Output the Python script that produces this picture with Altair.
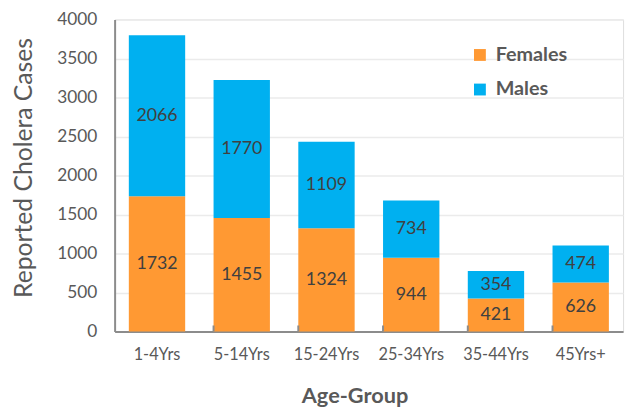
import altair as alt
import pandas as pd

categories = ["1-4Yrs", "5-14Yrs", "15-24Yrs", "25-34Yrs", "35-44Yrs", "45Yrs+"]
females = [1732, 1455, 1324, 944, 421, 626]
males = [2066, 1770, 1109, 734, 354, 474]
series = ["Females", "Males"]
colors = ["#FF9933", "#00B0F0"]
y_ticks = [0, 500, 1000, 1500, 2000, 2500, 3000, 3500, 4000]

rows = []
for i, c in enumerate(categories):
    rows.append({"cat": c, "sex": "Females", "value": females[i], "ord": 0})
    rows.append({"cat": c, "sex": "Males", "value": males[i], "ord": 1})
df = pd.DataFrame(rows)

FONT = "Lato"
GRAY = "#595959"

xaxis = alt.Axis(title="Age-Group", labelAngle=0, ticks=False, labelPadding=15,
                 labelFontSize=16.5, labelColor=GRAY, labelFont=FONT,
                 titleFont=FONT, titleFontSize=22, titleFontWeight="bold", titleColor=GRAY,
                 titleX=243, titleY=65, titleBaseline="middle", titleAnchor="middle",
                 domainColor="#8C8C8C", domainWidth=2)
xscale = alt.Scale(paddingInner=0.335, paddingOuter=0.1675)

yaxis = alt.Axis(values=y_ticks, format="d", labelOverlap=False,
                 title="Reported Cholera Cases", ticks=False,
                 labelPadding=18, labelFontSize=17.5, labelColor=GRAY, labelFont=FONT,
                 titleFont=FONT, titleFontSize=25, titleFontWeight="normal", titleColor=GRAY,
                 titleAngle=270, titleX=-92, titleY=150, titleBaseline="middle",
                 titleAlign="center", gridColor="#EBEBEB", gridWidth=1.5,
                 domainColor="#8C8C8C", domainWidth=2)
yscale = alt.Scale(domain=[0, 4000], nice=False)

base = alt.Chart(df)

bars = base.mark_bar().encode(
    x=alt.X("cat:N", sort=categories, scale=xscale, axis=xaxis),
    y=alt.Y("value:Q", stack="zero", scale=yscale, axis=yaxis),
    color=alt.Color("sex:N", scale=alt.Scale(domain=series, range=colors),
                    legend=alt.Legend(title=None, orient="none", legendX=360, legendY=26,
                                      symbolType="square", symbolSize=144, symbolStrokeWidth=0,
                                      labelFont=FONT, labelFontSize=20, labelFontWeight="bold",
                                      labelColor=GRAY, rowPadding=15, labelOffset=6, padding=0)),
    order=alt.Order("ord:Q"),
)

labels = base.transform_stack(
    stack="value", groupby=["cat"], as_=["y0", "y1"], sort=[alt.SortField("ord")]
).transform_calculate(mid="(datum.y0 + datum.y1) / 2").mark_text(
    font=FONT, fontSize=18, color="#404040", baseline="middle"
).encode(
    x=alt.X("cat:N", sort=categories, scale=xscale, axis=xaxis),
    y=alt.Y("mid:Q", scale=yscale, axis=yaxis),
    text=alt.Text("value:Q"),
)

tick_df = pd.DataFrame({"cat": categories[1:]})
ticks = alt.Chart(tick_df).mark_rule(color="#8C8C8C", strokeWidth=2).encode(
    x=alt.X("cat:N", sort=categories, bandPosition=0, scale=xscale, axis=xaxis),
    y=alt.value(310),
    y2=alt.value(316),
)

chart = alt.layer(bars, labels, ticks).properties(
    width=515, height=316,
    autosize="none",
    padding={"left": 108, "top": 9, "right": 6, "bottom": 75},
).configure_view(stroke="#8C8C8C", strokeWidth=2).configure(background="white")

chart.save("out.html", embed_options={"renderer": "svg", "actions": False})
